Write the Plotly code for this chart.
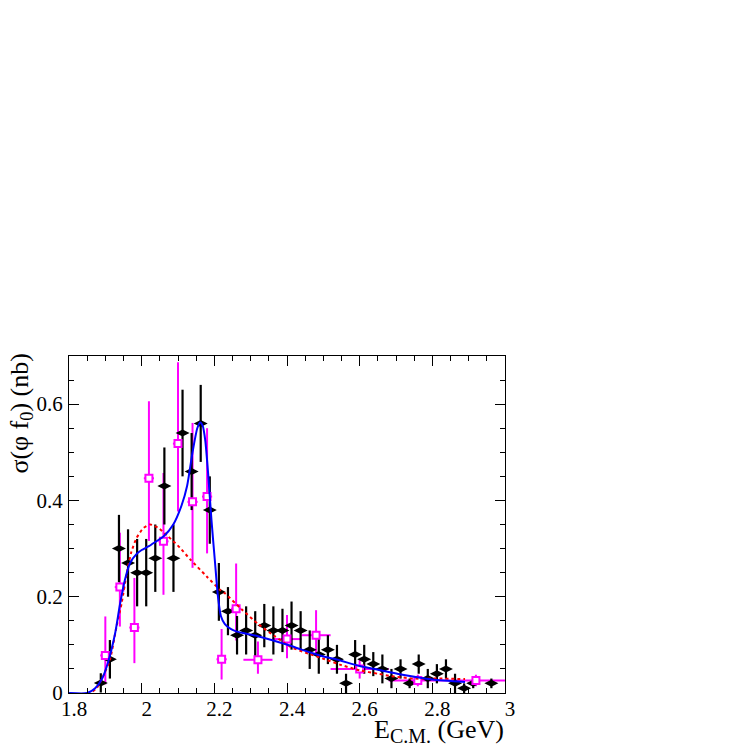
import plotly.graph_objects as go

# ---- data ----
# black points (filled diamonds)
blk_x = [1.8875, 1.9125, 1.9375, 1.9625, 1.9875, 2.0125, 2.0375, 2.0625, 2.0875, 2.1125,
         2.1375, 2.1625, 2.1875, 2.2125, 2.2375, 2.2625, 2.2875, 2.3125, 2.3375, 2.3625,
         2.3875, 2.4125, 2.4375, 2.4625, 2.4875, 2.5125, 2.5375, 2.5625, 2.5875, 2.6125,
         2.6375, 2.6625, 2.6875, 2.7125, 2.7375, 2.7625, 2.7875, 2.8125, 2.8375, 2.8625,
         2.8875, 2.9125, 2.9625]
blk_y = [0.021, 0.07, 0.30, 0.27, 0.25, 0.25, 0.28, 0.43, 0.28, 0.54,
         0.46, 0.56, 0.38, 0.21, 0.17, 0.12, 0.13, 0.12, 0.14, 0.13,
         0.13, 0.14, 0.13, 0.09, 0.08, 0.09, 0.07, 0.02, 0.08, 0.07,
         0.06, 0.05, 0.03, 0.05, 0.02, 0.06, 0.03, 0.04, 0.05, 0.02,
         0.01, 0.02, 0.02]
blk_err = [0.02, 0.04, 0.07, 0.07, 0.07, 0.07, 0.07, 0.08, 0.07, 0.09,
           0.08, 0.08, 0.07, 0.06, 0.05, 0.04, 0.05, 0.05, 0.045, 0.05,
           0.045, 0.05, 0.04, 0.04, 0.04, 0.03, 0.03, 0.02, 0.03, 0.03,
           0.025, 0.03, 0.02, 0.02, 0.01, 0.02, 0.02, 0.02, 0.02, 0.02,
           0.01, 0.01, 0.01]

# magenta points (open squares)
mag_x = [1.90, 1.94, 1.98, 2.02, 2.06, 2.10, 2.14, 2.18, 2.22, 2.26,
         2.32, 2.40, 2.48, 2.60, 2.76, 2.92]
mag_y = [0.078, 0.22, 0.136, 0.446, 0.315, 0.518, 0.397, 0.408, 0.07, 0.175,
         0.069, 0.112, 0.12, 0.05, 0.026, 0.026]
mag_eup = [0.081, 0.113, 0.103, 0.16, 0.142, 0.169, 0.164, 0.142, 0.063, 0.094,
           0.038, 0.05, 0.052, 0.02, 0.012, 0.012]
mag_edn = [0.06, 0.082, 0.074, 0.13, 0.111, 0.141, 0.137, 0.118, 0.042, 0.066,
           0.029, 0.04, 0.037, 0.02, 0.012, 0.012]
mag_ex = [0.014, 0.014, 0.014, 0.014, 0.014, 0.014, 0.014, 0.014, 0.014, 0.014,
          0.04, 0.04, 0.04, 0.08, 0.08, 0.08]

# blue solid fit curve
blue_x = [1.80, 1.85, 1.872, 1.89, 1.908, 1.927, 1.94, 1.954, 1.968, 1.985,
          2.0, 2.02, 2.04, 2.06, 2.087, 2.11, 2.125, 2.14, 2.153, 2.161,
          2.168, 2.175, 2.183, 2.192, 2.202, 2.21, 2.218, 2.229, 2.245, 2.26,
          2.32, 2.41, 2.44, 2.50, 2.53, 2.60, 2.62, 2.71, 2.80, 2.89]
blue_y = [0.0, 0.0, 0.01, 0.028, 0.065, 0.124, 0.183, 0.235, 0.27, 0.288,
          0.297, 0.305, 0.315, 0.325, 0.35, 0.39, 0.43, 0.50, 0.55, 0.562,
          0.555, 0.525, 0.455, 0.36, 0.27, 0.20, 0.16, 0.143, 0.133, 0.128,
          0.118, 0.098, 0.09, 0.076, 0.071, 0.056, 0.053, 0.039, 0.028, 0.023]

# red dashed curve
red_x = [1.85, 1.858, 1.876, 1.894, 1.913, 1.931, 1.945, 1.959, 1.972, 1.986,
         2.004, 2.023, 2.046, 2.073, 2.105, 2.133, 2.179, 2.216, 2.229, 2.275,
         2.321, 2.366, 2.412, 2.458, 2.504, 2.55, 2.60, 2.65, 2.688, 2.75,
         2.82, 2.89]
red_y = [0.0, 0.0, 0.01, 0.035, 0.07, 0.139, 0.187, 0.249, 0.294, 0.322,
         0.342, 0.35, 0.343, 0.325, 0.302, 0.278, 0.242, 0.214, 0.207, 0.174,
         0.143, 0.118, 0.095, 0.082, 0.07, 0.058, 0.047, 0.04, 0.035, 0.03,
         0.03, 0.029]

x_ticks = [1.8, 2.0, 2.2, 2.4, 2.6, 2.8, 3.0]
x_labels = ["1.8", "2", "2.2", "2.4", "2.6", "2.8", "3"]
y_ticks = [0.0, 0.2, 0.4, 0.6]
y_labels = ["0", "0.2", "0.4", "0.6"]

FONT = "Liberation Serif"
MAG = "#ff00ff"

fig = go.Figure()

# magenta error bars (marker hidden), then white-filled squares on top
fig.add_trace(go.Scatter(
    x=mag_x, y=mag_y, mode="markers",
    marker=dict(size=1, color=MAG, opacity=0),
    error_y=dict(type="data", symmetric=False, array=mag_eup, arrayminus=mag_edn,
                 color=MAG, thickness=2, width=0),
    error_x=dict(type="data", array=mag_ex, color=MAG, thickness=2, width=0),
    showlegend=False, hoverinfo="skip"))

fig.add_trace(go.Scatter(
    x=blk_x, y=blk_y, mode="markers",
    marker=dict(symbol="diamond-wide", size=10, color="black"),
    error_y=dict(type="data", array=blk_err, color="black", thickness=2.2, width=0),
    showlegend=False))

fig.add_trace(go.Scatter(
    x=mag_x, y=mag_y, mode="markers",
    marker=dict(symbol="square", size=7, color="white", line=dict(width=2, color=MAG)),
    showlegend=False))

fig.add_trace(go.Scatter(
    x=red_x, y=red_y, mode="lines",
    line=dict(color="#ff0000", width=2, dash="3px,3px", shape="spline", smoothing=0.6),
    showlegend=False))

fig.add_trace(go.Scatter(
    x=blue_x, y=blue_y, mode="lines",
    line=dict(color="#0000ff", width=2, shape="spline", smoothing=0.6),
    showlegend=False))

axis_common = dict(
    showline=True, linecolor="black", linewidth=1, mirror="ticks",
    ticks="inside", ticklen=10, tickwidth=1, tickcolor="black",
    showgrid=False, zeroline=False,
    tickfont=dict(family=FONT, size=21, color="black"),
    minor=dict(ticks="inside", ticklen=5, tickwidth=1, tickcolor="black", dtick=0.05, showgrid=False),
)

fig.update_xaxes(range=[1.8, 3.0], tickvals=x_ticks, ticktext=x_labels,
                 ticklabelshift=5, ticklabelstandoff=-3, **axis_common)
fig.update_yaxes(range=[0, 0.7], tickvals=y_ticks, ticktext=y_labels,
                 ticklabelstandoff=1, **axis_common)

# page body adds an 8px offset, so the figure is 739 wide/high
fig.update_layout(
    width=739, height=739,
    margin=dict(l=61, r=242, t=348, b=54, autoexpand=False),
    paper_bgcolor="white", plot_bgcolor="white",
    font=dict(family=FONT, color="black"),
    annotations=[
        dict(text="σ(φ f<sub>0</sub>) (nb)", xref="paper", yref="paper",
             x=-0.111, y=1.012, xanchor="center", yanchor="top", textangle=-90,
             showarrow=False, font=dict(family=FONT, size=26, color="black")),
        dict(text="E<sub><span style='font-size:20px'>C.M.</span></sub> (GeV)",
             xref="paper", yref="paper",
             x=1.0, y=-0.162, xanchor="right", yanchor="bottom", borderpad=0,
             showarrow=False, font=dict(family=FONT, size=26, color="black")),
    ],
)

fig.write_html("out.html")
